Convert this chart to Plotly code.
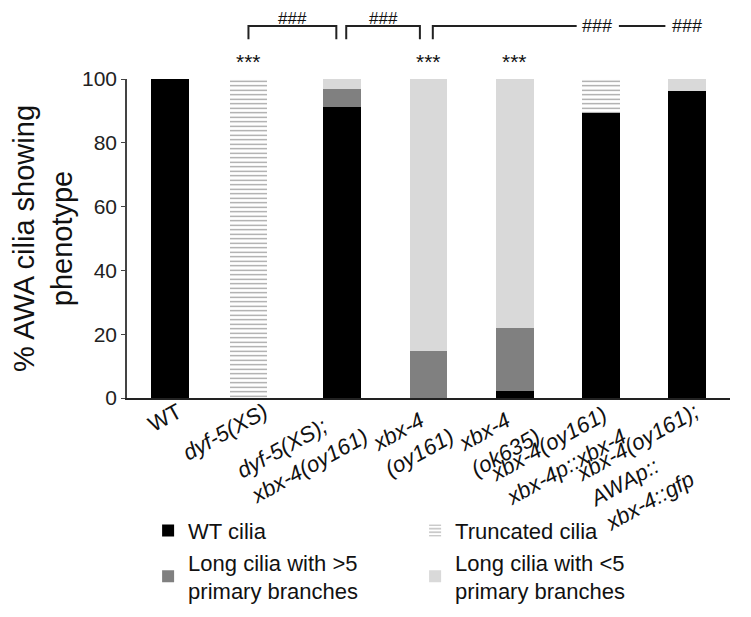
import plotly.graph_objects as go

categories = ["WT", "dyf5XS", "dyf5XS_xbx4", "xbx4_oy161", "xbx4_ok635", "xbx4_rescue", "xbx4_AWA"]
tick_lines = [
    ["WT"],
    ["dyf-5(XS)"],
    ["dyf-5(XS);", "xbx-4(oy161)"],
    ["xbx-4", "(oy161)"],
    ["xbx-4", "(ok635)"],
    ["xbx-4(oy161)", "xbx-4p::xbx-4"],
    ["xbx-4(oy161);", "AWAp::", "xbx-4::gfp"],
]
wt_cilia = [100, 0, 91.2, 0, 2.2, 89.3, 96.2]
truncated = [0, 100, 0, 0, 0, 10.7, 0]
long_gt5 = [0, 0, 5.7, 14.7, 19.7, 0, 0]
long_lt5 = [0, 0, 3.1, 85.3, 78.1, 0, 3.8]

star_labels = ["", "***", "", "***", "***", "", ""]

FONT = "Liberation Sans, Arial, sans-serif"
BW = 0.44

# Arial/Liberation advance widths (1/1000 em) used to left-align the multi-line tick labels
CW = {'x': 500, 'b': 556, '-': 333, '4': 556, '(': 333, ')': 333, 'o': 556, 'y': 500, '1': 556,
      '6': 556, 'd': 556, 'f': 278, '5': 556, 'X': 667, 'S': 667, ';': 278, 'k': 500, '3': 556,
      'p': 556, ':': 278, 'A': 667, 'W': 944, 'a': 556, 'g': 556, 'T': 611}


def width(s):
    return sum(CW.get(c, 556) for c in s)


def make_label(lines):
    if lines == ["WT"]:
        return "WT"
    wmax = max(width(l) for l in lines)
    out = []
    for l in lines:
        pad = int(round((wmax - width(l)) / 278))
        out.append("<i>" + l + "</i>" + "&nbsp;" * pad)
    return "<br>".join(out)


tick_labels = [make_label(l) for l in tick_lines]

fig = go.Figure()
fig.add_bar(x=categories, y=wt_cilia, name="WT cilia", marker=dict(color="#000000", line=dict(width=0)), width=BW)
fig.add_bar(
    x=categories, y=truncated, name="Truncated cilia", width=BW,
    offset=[-BW / 2 - 0.09 if c == "dyf5XS" else -BW / 2 for c in categories],
    marker=dict(color="white", line=dict(width=0),
                pattern=dict(shape="-", size=4.5, solidity=0.27, fgcolor="#3a3a3a", bgcolor="white", fillmode="overlay")),
)
fig.add_bar(x=categories, y=long_gt5, name="Long cilia with >5<br>primary branches",
            marker=dict(color="#808080", line=dict(width=0)), width=BW)
fig.add_bar(x=categories, y=long_lt5, name="Long cilia with <5<br>primary branches",
            marker=dict(color="#d9d9d9", line=dict(width=0)), width=BW)

# significance stars above bars
for i, s in enumerate(star_labels):
    if s:
        xi = i - 0.09 if categories[i] == "dyf5XS" else i
        fig.add_annotation(x=xi, y=1.055, xref="x", yref="paper", text=s, showarrow=False,
                           font=dict(size=21, color="#111", family=FONT), yanchor="middle")

LC = "#222222"
top = 1.166
leg = 1.125
brackets = [(0.91, 1.93), (2.045, 2.90)]
for x0, x1 in brackets:
    fig.add_shape(type="path", xref="x", yref="paper",
                  path=f"M {x0} {leg} L {x0} {top} L {x1} {top} L {x1} {leg}",
                  line=dict(color=LC, width=2))
    fig.add_annotation(x=(x0 + x1) / 2, y=1.2225, xref="x", yref="paper", text="###", showarrow=False,
                       font=dict(size=17, color="#111", family=FONT), yanchor="top", borderpad=0)
fig.add_shape(type="path", xref="x", yref="paper",
              path=f"M 3.05 {leg} L 3.05 {top} L 4.72 {top}", line=dict(color=LC, width=2))
fig.add_shape(type="line", xref="x", yref="paper", x0=5.21, x1=5.75, y0=top, y1=top,
              line=dict(color=LC, width=2))
for xi in (4.96, 6.0):
    fig.add_annotation(x=xi, y=top, xref="x", yref="paper", text="###", showarrow=False,
                       font=dict(size=18, color="#111", family=FONT), yanchor="middle", borderpad=0)

# page body has an 8px margin, so the figure is drawn 8px smaller and shifted
fig.update_layout(
    width=743, height=609,
    barmode="stack",
    bargap=0.56,
    plot_bgcolor="white", paper_bgcolor="white",
    margin=dict(l=119, r=21, t=71, b=219, autoexpand=False),
    font=dict(family=FONT, color="#222"),
    showlegend=True,
    legend=dict(orientation="h", x=0.035, xanchor="left", y=-0.35, yanchor="top",
                entrywidth=222, entrywidthmode="pixels",
                font=dict(size=22, color="#111", family=FONT),
                itemsizing="constant", tracegroupgap=0, traceorder="normal",
                bgcolor="rgba(0,0,0,0)"),
)
fig.update_xaxes(
    tickmode="array", tickvals=categories, ticktext=tick_labels,
    tickangle=-29, tickfont=dict(size=22, color="#111", family=FONT),
    showline=True, linecolor="#222", linewidth=2, ticks="", showgrid=False,
    range=[-0.5, 6.5], automargin=False, ticklabelstandoff=-9, ticklabelshift=8,
)
fig.update_yaxes(
    range=[0, 100], tickvals=[0, 20, 40, 60, 80, 100],
    tickfont=dict(size=21, color="#222", family=FONT),
    ticks="outside", ticklen=4, tickwidth=1.3, tickcolor="#444",
    showline=True, linecolor="#444", linewidth=1.5, showgrid=False, zeroline=False, automargin=False,
    title=dict(text="% AWA cilia showing<br>phenotype", font=dict(size=29, color="#111", family=FONT), standoff=10),
)

fig.write_html("out.html")
